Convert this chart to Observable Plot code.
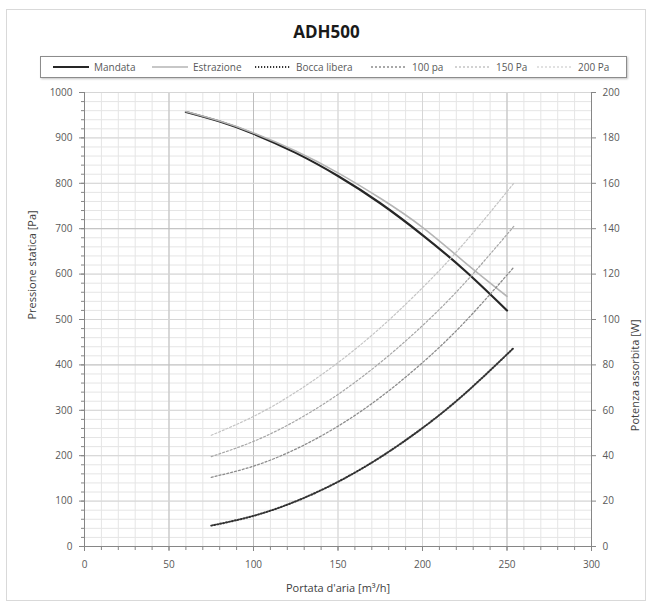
<!DOCTYPE html>
<html><head><meta charset="utf-8">
<script src="https://cdn.jsdelivr.net/npm/d3@7"></script>
<script src="https://cdn.jsdelivr.net/npm/@observablehq/plot@0.6"></script>
<style>
body{margin:0;background:#fff;font-family:"Open Sans",sans-serif;}
#frame{position:absolute;left:6px;top:9px;width:638px;height:590px;border:1px solid #d9d9d9;}
#title{position:absolute;left:0;top:20px;width:653px;text-align:center;font-weight:bold;font-size:17px;color:#1a1a1a;}
#legend{position:absolute;left:40px;top:56px;width:585px;height:20px;border:1px solid #8c8c8c;box-shadow:1px 1px 2px #c4c4c4;background:#fff;}
.item{position:absolute;top:0;height:20px;display:flex;align-items:center;font-size:10px;color:#595959;white-space:nowrap;}
.item svg{margin-right:5px;}
#chart{position:absolute;left:0;top:80px;}
</style></head><body>
<div id="frame"></div>
<div id="title">ADH500</div>
<div id="legend"></div>
<div id="chart"></div>
<script>
// Portata d'aria [m³/h] vs Pressione statica [Pa]
const flowPressure = [60, 80, 100, 125, 150, 175, 200, 225, 250];
const pMandata     = [957, 936, 909, 867, 816, 756, 686, 608, 520];
const pEstrazione  = [958, 937, 911, 871, 823, 767, 703, 626, 551];
// Portata d'aria [m³/h] vs Potenza assorbita [W]
const flowPower = [75, 100, 125, 150, 175, 200, 225, 254];
const wBocca    = [9.2, 13.5, 19.9, 28.5, 39.3, 52.2, 67.3, 87.5];
const w100      = [30.5, 35.4, 42.9, 53, 65.7, 81, 98.9, 123];
const w150      = [39.6, 46.3, 55.4, 67, 81, 97.3, 116.1, 141];
const w200      = [49, 57.3, 68, 81, 96.3, 114, 133.9, 160];
const xTicks = [0, 50, 100, 150, 200, 250, 300];
const yTicks = [0, 100, 200, 300, 400, 500, 600, 700, 800, 900, 1000];
const wTicks = [0, 20, 40, 60, 80, 100, 120, 140, 160, 180, 200];

const W2P = 1000 / 200; // right axis (W) mapped onto left axis (Pa)

const series = [
  {name: "Mandata", flow: flowPressure, vals: pMandata, k: 1, stroke: "#262626", width: 2.2, dash: null},
  {name: "Estrazione", flow: flowPressure, vals: pEstrazione, k: 1, stroke: "#b5b5b5", width: 1.6, dash: null},
  {name: "Bocca libera", flow: flowPower, vals: wBocca, k: W2P, stroke: "#333333", width: 2, dash: "1.2 1.8"},
  {name: "100 pa", flow: flowPower, vals: w100, k: W2P, stroke: "#8c8c8c", width: 1.3, dash: "2 2"},
  {name: "150 Pa", flow: flowPower, vals: w150, k: W2P, stroke: "#a6a6a6", width: 1.2, dash: "2 2"},
  {name: "200 Pa", flow: flowPower, vals: w200, k: W2P, stroke: "#c4c4c4", width: 1.2, dash: "2 2"}
];

// legend
const legendX = [12, 111, 214, 330, 414, 496];
const legend = document.getElementById("legend");
series.forEach((s, i) => {
  const it = document.createElement("div");
  it.className = "item";
  it.style.left = legendX[i] + "px";
  it.innerHTML = `<svg width="36" height="6"><line x1="0" x2="36" y1="3" y2="3" stroke="${s.stroke}" stroke-width="${s.width}" ${s.dash ? `stroke-dasharray="${s.dash}"` : ""}/></svg><span>${s.name}</span>`;
  legend.appendChild(it);
});

const minorX = d3.range(0, 301, 10);
const minorY = d3.range(0, 1001, 20);
const darkX = [50, 100, 250];
const darkY = [400, 700];

const lineMarks = series.map(s => Plot.line(
  s.flow.map((f, i) => ({x: f, y: s.vals[i] * s.k})),
  {x: "x", y: "y", curve: "natural", stroke: s.stroke, strokeWidth: s.width, strokeDasharray: s.dash}
));

const chart = Plot.plot({
  width: 653, height: 525,
  marginLeft: 84, marginRight: 62, marginTop: 12, marginBottom: 59,
  style: {fontFamily: "Open Sans, sans-serif", fontSize: "10px", color: "#595959", background: "transparent"},
  x: {domain: [0, 300]},
  y: {domain: [0, 1000]},
  marks: [
    Plot.ruleX(minorX, {stroke: "#e5e5e5", strokeWidth: 1}),
    Plot.ruleY(minorY, {stroke: "#e5e5e5", strokeWidth: 1}),
    Plot.ruleX(xTicks, {stroke: d => darkX.includes(d) ? "#bdbdbd" : "#d6d6d6", strokeWidth: 1}),
    Plot.ruleY(yTicks, {stroke: d => darkY.includes(d) ? "#bdbdbd" : "#d6d6d6", strokeWidth: 1}),
    Plot.axisX(xTicks, {tickSize: 5, tickPadding: 9, tickFormat: d => String(d), label: null, stroke: "#868686"}),
    Plot.axisX(minorX, {tickSize: 4, tickFormat: () => "", label: null, stroke: "#868686"}),
    Plot.axisY(yTicks, {anchor: "left", tickSize: 5, tickPadding: 7, tickFormat: d => String(d), label: null, stroke: "#868686"}),
    Plot.axisY(minorY, {anchor: "left", tickSize: 3, tickFormat: () => "", label: null, stroke: "#868686"}),
    Plot.axisY(wTicks.map(w => w * W2P), {anchor: "right", tickSize: 4, tickPadding: 7, tickFormat: d => String(d / W2P), label: null, stroke: "#868686"}),
    Plot.ruleX([0, 300], {stroke: "#868686"}),
    Plot.ruleY([0], {stroke: "#868686"}),
    ...lineMarks,
    Plot.text(["Pressione statica [Pa]"], {frameAnchor: "left", dx: -52, rotate: -90, fontSize: 11, fill: "#404040"}),
    Plot.text(["Potenza assorbita [W]"], {frameAnchor: "right", dx: 44, rotate: -90, fontSize: 11, fill: "#404040"}),
    Plot.text(["Portata d'aria [m³/h]"], {frameAnchor: "bottom", dy: 45, fontSize: 11, fill: "#404040"})
  ]
});
document.getElementById("chart").appendChild(chart);
</script>
</body></html>
